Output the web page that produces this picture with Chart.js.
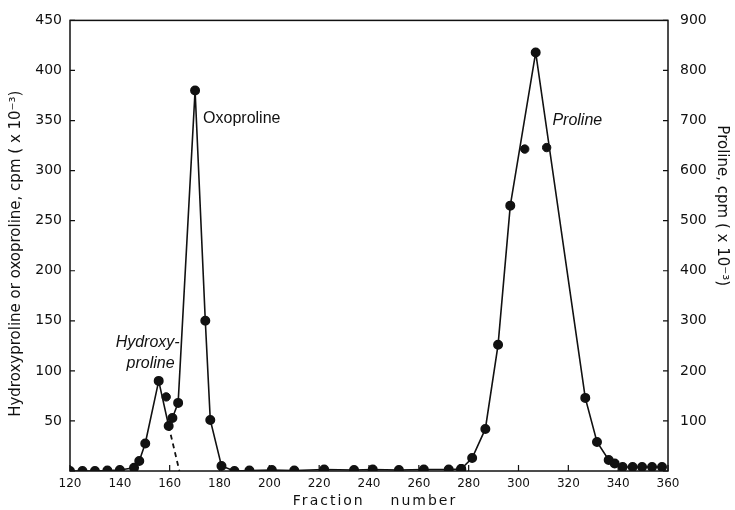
<!DOCTYPE html>
<html><head><meta charset="utf-8">
<script src="https://cdn.jsdelivr.net/npm/chart.js@4/dist/chart.umd.min.js"></script>
<style>html,body{margin:0;padding:0;background:#fff}#wrap{width:735px;height:510px}</style>
</head><body><div id="wrap"><canvas id="c" width="735" height="510"></canvas></div>
<script>
// Hydroxyproline / oxoproline (left axis, cpm x 10^-3)
const hoFractions = [120,125,130,135,140,145.7,147.8,150.2,155.6,159.6,161.1,163.4,170.2,174.3,176.3,180.8,186,192,201,210,222,234,241.5,252,262,272,277];
const hoValues    = [0,0,0,0.5,1,3.3,10,27.5,90,45,53,68,380,150,51,5,0,0.5,1,0.5,1.5,1,1.5,1,1.5,1.5,2];
// Point lying off the hydroxyproline line
const hoStrayFractions = [158.6];
const hoStrayValues    = [74];
// Dashed extrapolation of the hydroxyproline peak
const dashFractions = [159.6,163.9];
const dashValues    = [45,0];
// Proline (right axis, cpm x 10^-3)
const proFractions = [277,281.4,286.7,291.8,296.7,306.9,326.8,331.5,336.2,338.6,341.8,345.8,349.6,353.6,357.6];
const proValues    = [4,26,84,252,530,836,146,58,22,15,8,8,8,8,8];
const proStrayFractions = [302.5,311.3];
const proStrayValues    = [643,646];
// Text
const xTitle = 'Fraction    number';
const yTitle = 'Hydroxyproline or oxoproline, cpm ( x 10⁻³)';
const y2Title = 'Proline, cpm ( x 10⁻³)';
// Peak labels placed at data coordinates (right-aligned for the first two)
const peakLabels = [
  {text:'Hydroxy-', x:164, y:128, align:'right', font:'italic 16px "Liberation Sans", Arial, sans-serif'},
  {text:'proline',  x:162, y:107, align:'right', font:'italic 16px "Liberation Sans", Arial, sans-serif'},
  {text:'Oxoproline', x:173.4, y:352, align:'left', font:'16px "Liberation Sans", Arial, sans-serif'},
  {text:'Proline', x:313.6, y:350, align:'left', font:'italic 16px "Liberation Sans", Arial, sans-serif'}
];

const pts = (xs, ys) => xs.map((x, i) => ({x, y: ys[i]}));
const black = '#111';

const framePlugin = {
  id: 'frame',
  beforeDatasetsDraw(chart) {
    const {ctx, chartArea: a, scales} = chart;
    ctx.save();
    ctx.strokeStyle = black;
    ctx.lineWidth = 1.5;
    ctx.strokeRect(a.left, a.top, a.right - a.left, a.bottom - a.top);
    ctx.lineWidth = 1.2;
    ctx.beginPath();
    scales.x.ticks.forEach(t => {
      const p = scales.x.getPixelForValue(t.value);
      ctx.moveTo(p, a.bottom); ctx.lineTo(p, a.bottom - 6);
    });
    scales.y.ticks.forEach(t => {
      const p = scales.y.getPixelForValue(t.value);
      ctx.moveTo(a.left, p); ctx.lineTo(a.left + 5, p);
    });
    scales.y2.ticks.forEach(t => {
      const p = scales.y2.getPixelForValue(t.value);
      ctx.moveTo(a.right, p); ctx.lineTo(a.right - 5, p);
    });
    ctx.stroke();
    ctx.restore();
  },
  afterDraw(chart) {
    const {ctx, scales, chartArea: a} = chart;
    ctx.save();
    ctx.fillStyle = black;
    ctx.textBaseline = 'middle';
    peakLabels.forEach(l => {
      ctx.font = l.font;
      ctx.textAlign = l.align;
      ctx.fillText(l.text, scales.x.getPixelForValue(l.x), scales.y.getPixelForValue(l.y));
    });
    // x-axis title
    ctx.textAlign = 'center';
    ctx.font = '14px "DejaVu Sans", sans-serif';
    ctx.letterSpacing = '2px';
    ctx.fillText(xTitle, (a.left + a.right) / 2 + 6, a.bottom + 30);
    ctx.letterSpacing = '0px';
    // left title
    ctx.font = '15px "DejaVu Sans", sans-serif';
    ctx.save();
    ctx.translate(16, (a.top + a.bottom) / 2 + 8);
    ctx.rotate(-Math.PI / 2);
    ctx.fillText(yTitle, 0, 0);
    ctx.restore();
    // right title
    ctx.save();
    ctx.translate(722, (a.top + a.bottom) / 2 - 40);
    ctx.rotate(Math.PI / 2);
    ctx.fillText(y2Title, 0, 0);
    ctx.restore();
    ctx.restore();
  }
};

new Chart(document.getElementById('c'), {
  type: 'scatter',
  data: {
    datasets: [
      {data: pts(hoFractions, hoValues), yAxisID: 'y', showLine: true, borderColor: black, borderWidth: 1.6,
       pointRadius: 4.2, pointBackgroundColor: black, pointBorderColor: black, tension: 0},
      {data: pts(hoStrayFractions, hoStrayValues), yAxisID: 'y', showLine: false,
       pointRadius: 4.2, pointBackgroundColor: black, pointBorderColor: black},
      {data: pts(dashFractions, dashValues), yAxisID: 'y', showLine: true, borderColor: black, borderWidth: 1.8,
       borderDash: [5, 4], pointRadius: 0},
      {data: pts(proFractions, proValues), yAxisID: 'y2', showLine: true, borderColor: black, borderWidth: 1.6,
       pointRadius: 4.2, pointBackgroundColor: black, pointBorderColor: black, tension: 0},
      {data: pts(proStrayFractions, proStrayValues), yAxisID: 'y2', showLine: false,
       pointRadius: 4.2, pointBackgroundColor: black, pointBorderColor: black}
    ]
  },
  options: {
    responsive: false,
    devicePixelRatio: 1,
    animation: false,
    layout: {padding: {top: 18, left: 0, right: 0, bottom: 0}},
    plugins: {legend: {display: false}, tooltip: {enabled: false}},
    scales: {
      x: {
        type: 'linear', min: 120, max: 360,
        grid: {display: false, drawTicks: false},
        border: {display: false},
        ticks: {stepSize: 20, color: black, padding: 6, font: {family: 'DejaVu Sans', size: 12}, maxRotation: 0},
        afterFit(s) { s.height = 39; }
      },
      y: {
        type: 'linear', position: 'left', min: 0, max: 450,
        grid: {display: false, drawTicks: false},
        border: {display: false},
        ticks: {stepSize: 50, color: black, padding: 8, font: {family: 'DejaVu Sans', size: 14},
                callback: v => v === 0 ? '' : v},
        afterFit(s) { s.width = 70; }
      },
      y2: {
        type: 'linear', position: 'right', min: 0, max: 900,
        grid: {display: false, drawTicks: false},
        border: {display: false},
        ticks: {stepSize: 100, color: black, padding: 12, font: {family: 'DejaVu Sans', size: 14},
                callback: v => v === 0 ? '' : v},
        afterFit(s) { s.width = 67; }
      }
    }
  },
  plugins: [framePlugin]
});
</script>
</body></html>
